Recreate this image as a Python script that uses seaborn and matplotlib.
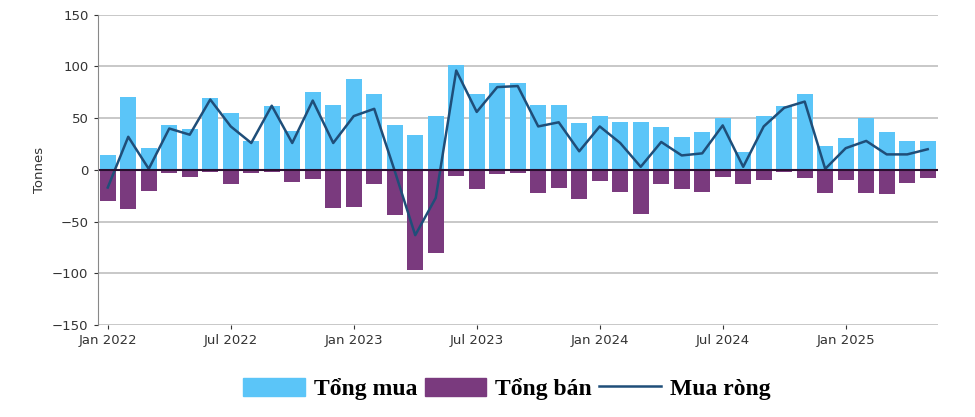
import matplotlib
matplotlib.use("Agg")
import matplotlib.pyplot as plt
import seaborn as sns
import pandas as pd
import numpy as np
from matplotlib.patches import Patch
from matplotlib.lines import Line2D

months = pd.date_range("2022-01-01", periods=41, freq="MS").strftime("%b %Y").tolist()
buys = [14, 70, 21, 43, 40, 69, 55, 28, 62, 38, 75, 63,
        88, 73, 43, 34, 52, 101, 73, 84, 84, 63, 63, 45,
        52, 46, 46, 41, 32, 37, 50, 17, 52, 62, 73, 23,
        31, 50, 37, 28, 28]
sales = [-30, -38, -20, -3, -7, -2, -14, -3, -2, -12, -9, -37,
         -36, -14, -44, -97, -80, -6, -18, -4, -3, -22, -17, -28,
         -11, -21, -43, -14, -18, -21, -7, -14, -10, -2, -8, -22,
         -10, -22, -23, -13, -8]
net = [-17, 32, 1, 40, 34, 68, 42, 26, 62, 26, 67, 26,
       52, 59, -1, -63, -27, 96, 56, 80, 81, 42, 46, 18,
       42, 26, 3, 27, 14, 16, 43, 3, 42, 60, 66, 1,
       21, 28, 15, 15, 20]
tick_labels = ["Jan 2022", "Jul 2022", "Jan 2023", "Jul 2023", "Jan 2024", "Jul 2024", "Jan 2025"]

df = pd.DataFrame({"month": months, "buys": buys, "sales": sales, "net": net})

fig = plt.figure(figsize=(9.75, 4.17), dpi=100)
ax = fig.add_axes([0.1, 0.22, 0.862, 0.745])
blue, purple, navy = "#5BC5F8", "#7A3A7E", "#1F4E79"
sns.barplot(data=df, x="month", y="buys", color=blue, width=0.78, saturation=1, ax=ax)
sns.barplot(data=df, x="month", y="sales", color=purple, width=0.78, saturation=1, ax=ax)
sns.lineplot(x=np.arange(len(net)), y=df["net"], color=navy, lw=1.8, ax=ax)

ax.set_ylim(-150, 150)
ax.set_yticks(range(-150, 151, 50))
ax.set_xlim(-0.5, len(months) - 0.5)
ax.set_xticks([months.index(t) for t in tick_labels])
ax.set_xticklabels(tick_labels)
ax.tick_params(axis="both", labelsize=9.5, colors="#333333", length=3)
ax.set_xlabel("")
ax.set_ylabel("Tonnes", fontsize=9.5, color="#333333")
ax.grid(axis="y", color="#BFBFBF", lw=1.2)
ax.set_axisbelow(True)
for s in ["top", "right", "bottom"]:
    ax.spines[s].set_visible(False)
ax.spines["left"].set_color("#888888")
ax.axhline(0, color="#2a1030", lw=1.5)

handles = [Patch(color=blue), Patch(color=purple), Line2D([], [], color=navy, lw=1.8)]
fig.legend(handles, ["Tổng mua", "Tổng bán", "Mua ròng"], loc="lower center",
           bbox_to_anchor=(0.52, -0.01), ncol=3, frameon=False,
           prop={"family": "Liberation Serif", "weight": "bold", "size": 17},
           handlelength=2.6, handleheight=0.8, columnspacing=0.3, handletextpad=0.4)
fig.savefig("out.png", dpi=100)
